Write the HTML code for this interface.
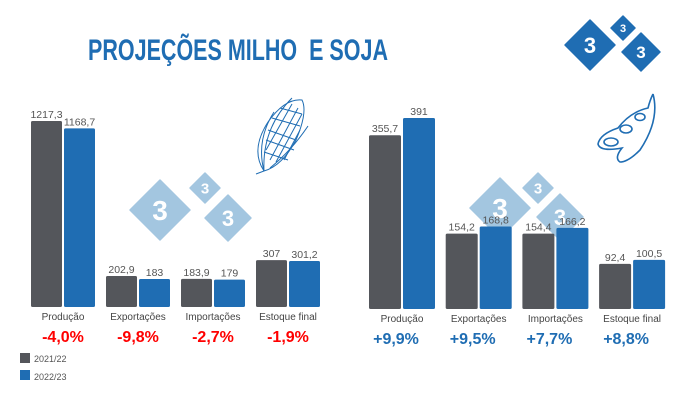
<!DOCTYPE html>
<html><head><meta charset="utf-8"><style>
html,body{margin:0;padding:0;background:#fff;}
svg{display:block;font-family:"Liberation Sans",sans-serif;}
</style></head><body>
<svg id="c" width="700" height="400" viewBox="0 0 700 400">
<text x="88" y="60" textLength="300" lengthAdjust="spacingAndGlyphs" font-size="30" font-weight="bold" fill="#1f6db3" xml:space="preserve" style="white-space:pre">PROJEÇÕES MILHO&#160; E SOJA</text>
<g id="wm"></g>
<g id="logo"></g>
<g fill="none" stroke="#1f6db3" stroke-width="1">
<path d="M256 174 L264 171 Q250 150 268 122 Q285 98 302 100 Q308 112 296 140 Q282 166 264 171"/>
<path d="M264 171 Q256 140 274 112 M270 168 Q292 150 308 126 M264 171 Q262 128 292 98"/>
<path d="M270 160 L298 108 M276 162 L302 114 M266 150 L292 104 M284 160 L300 130 M268 130 L296 140 M266 140 L294 150 M272 118 L300 126 M280 108 L302 114 M264 152 L288 160"/>
</g>
<g fill="none" stroke="#1f6db3" stroke-width="1.6">
<path d="M653 94 Q660 120 640 150 Q628 162 620 162 Q614 158 622 148 Q600 152 598 144 Q600 134 618 128 Q630 112 648 108 Q650 100 653 94"/>
<ellipse cx="611" cy="142" rx="7" ry="4"/><ellipse cx="626" cy="129" rx="6" ry="4"/><ellipse cx="640" cy="117" rx="5" ry="3.5"/>
</g>
<g id="left"></g>
<g id="right"></g>
<g>
<rect x="20" y="353" width="10" height="10" fill="#54565b"/>
<text x="34" y="362" font-size="9" fill="#555">2021/22</text>
<rect x="20" y="370" width="10" height="10" fill="#1f6db3"/>
<text x="34" y="380" font-size="9" fill="#555">2022/23</text>
</g>
</svg>
<script>
const categories=["Produção","Exportações","Importações","Estoque final"];
const cornPrev=[1217.3,202.9,183.9,307];
const cornNext=[1168.7,183,179,301.2];
const cornPct=["-4,0%","-9,8%","-2,7%","-1,9%"];
const soyPrev=[355.7,154.2,154.4,92.4];
const soyNext=[391,168.8,166.2,100.5];
const soyPct=["+9,9%","+9,5%","+7,7%","+8,8%"];
const NS="http://www.w3.org/2000/svg";
function mk(p,t,a){const e=document.createElementNS(NS,t);for(const k in a)e.setAttribute(k,a[k]);p.appendChild(e);return e;}
function fmt(v){return String(v).replace('.',',');}
function diamond(g,cx,cy,r,fill,label,fs){
  const d=mk(g,'path',{d:`M${cx} ${cy-r} L${cx+r} ${cy} L${cx} ${cy+r} L${cx-r} ${cy} Z`,fill:fill,'stroke-linejoin':'round',stroke:fill,'stroke-width':1.5});
  
  
  const t=mk(g,'text',{x:cx,y:cy+fs*0.36,'text-anchor':'middle','font-size':fs,'font-weight':'bold',fill:'#fff'});
  t.textContent=label;
  
  
}
const logo=document.getElementById('logo');
diamond(logo,590,45,25,'#1f6db3','3',22);diamond(logo,623,28,12,'#1f6db3','3',11);diamond(logo,641,52,19,'#1f6db3','3',17);
const wm=document.getElementById('wm');
diamond(wm,160,210,30,'#a3c6e0','3',28);diamond(wm,205,188,15,'#a3c6e0','3',15);diamond(wm,228,218,23,'#a3c6e0','3',22);
diamond(wm,500,208,30,'#a3c6e0','3',28);diamond(wm,538,188,15,'#a3c6e0','3',15);diamond(wm,560,217,23,'#a3c6e0','3',22);

function chart(id,prev,next,pct,x0,pitch,bw,base,scale,pctColor,pctX){
  const g=document.getElementById(id);
  const y=v=>base-v*scale;
  categories.forEach((c,i)=>{
    const gx=x0+i*pitch;
    [[prev[i],'#54565b',gx],[next[i],'#1f6db3',gx+bw+2]].forEach(([v,col,bx],j)=>{
      const r=mk(g,'rect',{x:bx,y:y(v),width:bw,height:base-y(v),fill:col,rx:1.5});
      
      
      const t=mk(g,'text',{x:bx+bw/2,y:y(v)-3,'text-anchor':'middle','font-size':10.5,fill:'#555'});
      t.textContent=fmt(v);
      
      
    });
    const cl=mk(g,'text',{x:gx+bw+1,y:base+13,'text-anchor':'middle','font-size':10,fill:'#444'});
    cl.textContent=c;
    
    
    const p=mk(g,'text',{x:gx+bw+1+pctX,y:base+35,'text-anchor':'middle','font-size':16,'font-weight':'bold',fill:pctColor});
    p.textContent=pct[i];
    
    
  });
}
chart('left',cornPrev,cornNext,cornPct,31,75,31,307,186/1217.3,'#ff0000',0);
chart('right',soyPrev,soyNext,soyPct,369,76.7,32,309,191/391,'#1f6db3',-6);
</script>
</body></html>
